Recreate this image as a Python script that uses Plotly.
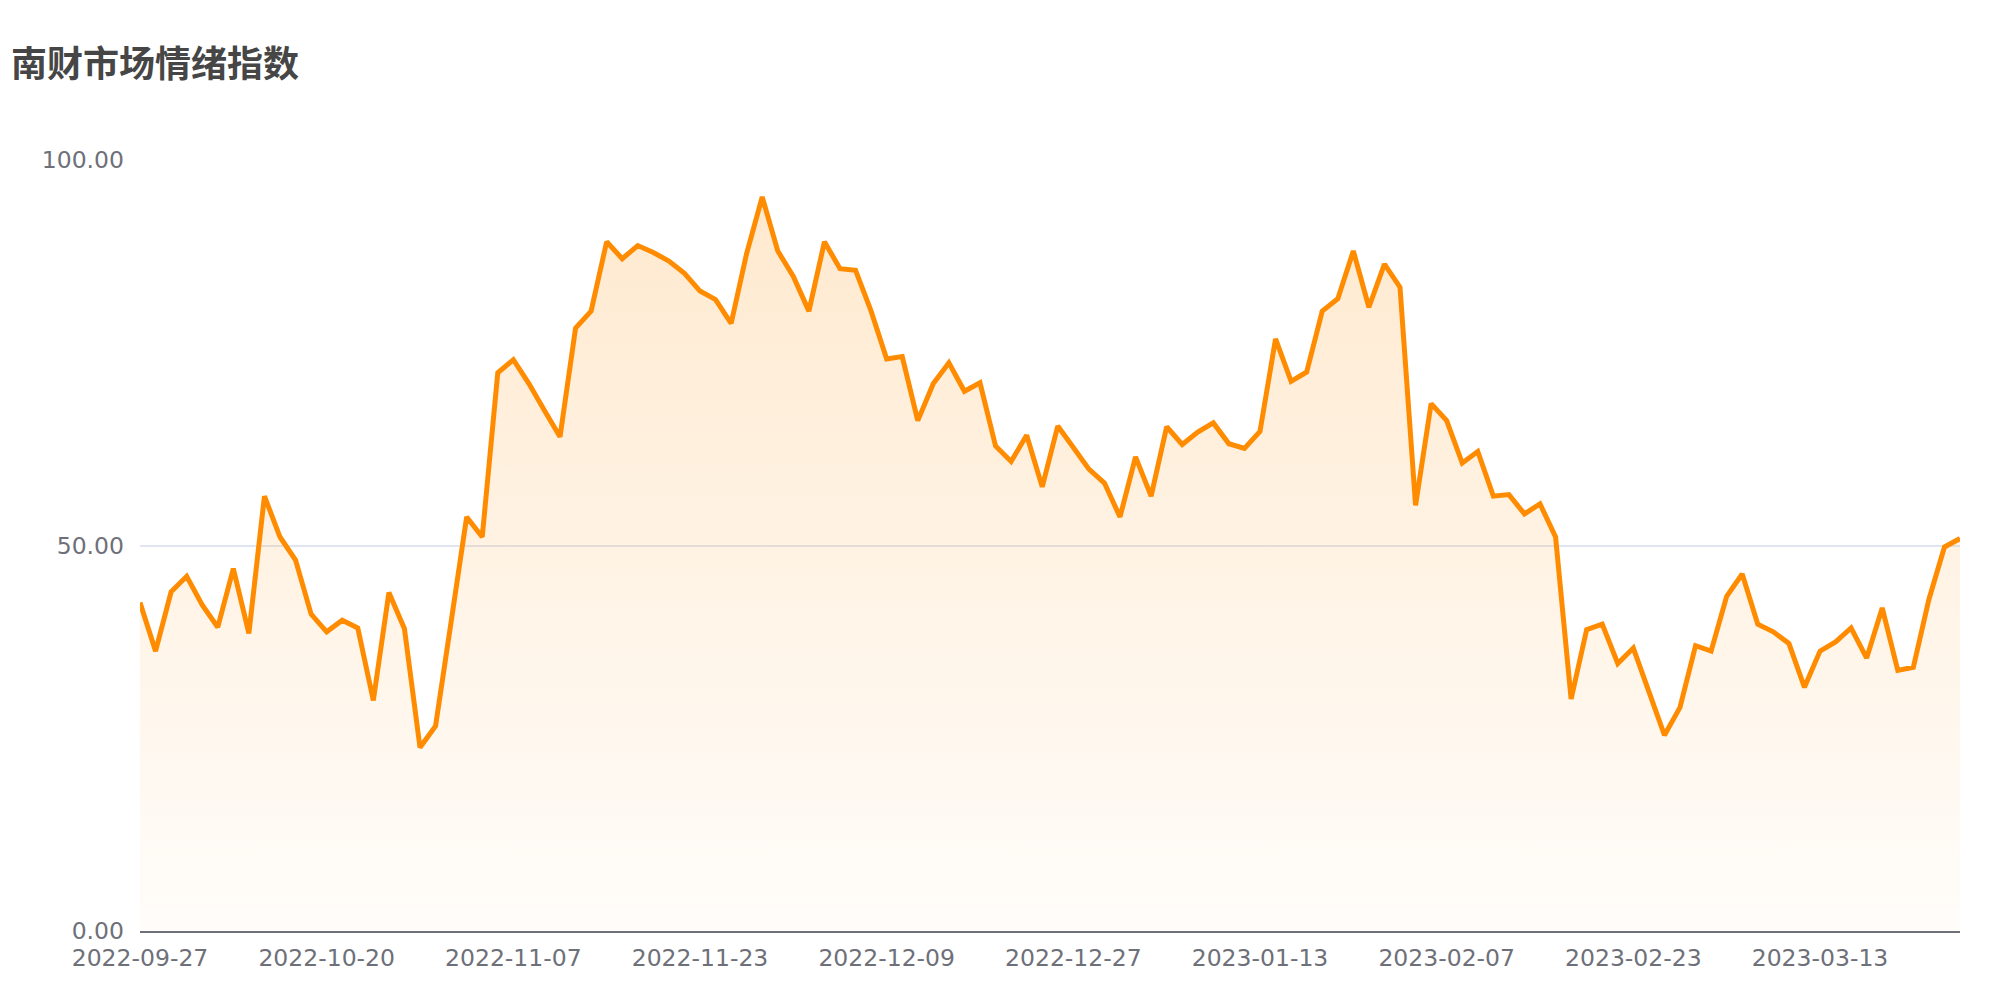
import plotly.graph_objects as go

dates = [
    "2022-09-27", "2022-09-28", "2022-09-29", "2022-09-30", "2022-10-10", "2022-10-11",
    "2022-10-12", "2022-10-13", "2022-10-14", "2022-10-17", "2022-10-18", "2022-10-19",
    "2022-10-20", "2022-10-21", "2022-10-24", "2022-10-25", "2022-10-26", "2022-10-27",
    "2022-10-28", "2022-10-31", "2022-11-01", "2022-11-02", "2022-11-03", "2022-11-04",
    "2022-11-07", "2022-11-08", "2022-11-09", "2022-11-10", "2022-11-11", "2022-11-14",
    "2022-11-15", "2022-11-16", "2022-11-17", "2022-11-18", "2022-11-21", "2022-11-22",
    "2022-11-23", "2022-11-24", "2022-11-25", "2022-11-28", "2022-11-29", "2022-11-30",
    "2022-12-01", "2022-12-02", "2022-12-05", "2022-12-06", "2022-12-07", "2022-12-08",
    "2022-12-09", "2022-12-12", "2022-12-13", "2022-12-14", "2022-12-15", "2022-12-16",
    "2022-12-19", "2022-12-20", "2022-12-21", "2022-12-22", "2022-12-23", "2022-12-26",
    "2022-12-27", "2022-12-28", "2022-12-29", "2022-12-30", "2023-01-03", "2023-01-04",
    "2023-01-05", "2023-01-06", "2023-01-09", "2023-01-10", "2023-01-11", "2023-01-12",
    "2023-01-13", "2023-01-16", "2023-01-17", "2023-01-18", "2023-01-19", "2023-01-20",
    "2023-01-30", "2023-01-31", "2023-02-01", "2023-02-02", "2023-02-03", "2023-02-06",
    "2023-02-07", "2023-02-08", "2023-02-09", "2023-02-10", "2023-02-13", "2023-02-14",
    "2023-02-15", "2023-02-16", "2023-02-17", "2023-02-20", "2023-02-21", "2023-02-22",
    "2023-02-23", "2023-02-24", "2023-02-27", "2023-02-28", "2023-03-01", "2023-03-02",
    "2023-03-03", "2023-03-06", "2023-03-07", "2023-03-08", "2023-03-09", "2023-03-10",
    "2023-03-13", "2023-03-14", "2023-03-15", "2023-03-16", "2023-03-17", "2023-03-20",
    "2023-03-21", "2023-03-22", "2023-03-23", "2023-03-24",
]

values = [
    42.6, 36.3, 44.0, 46.0, 42.3, 39.4, 47.0, 38.6, 56.4, 51.1,
    48.1, 41.1, 38.8, 40.3, 39.3, 29.9, 43.9, 39.2, 23.8, 26.6,
    40.1, 53.7, 51.1, 72.4, 74.1, 71.0, 67.5, 64.1, 78.2, 80.4,
    89.4, 87.2, 88.9, 88.0, 86.9, 85.3, 83.0, 81.9, 78.8, 87.9,
    95.2, 88.2, 84.9, 80.4, 89.4, 85.9, 85.7, 80.4, 74.2, 74.5,
    66.2, 71.0, 73.7, 70.0, 71.1, 62.9, 60.9, 64.3, 57.6, 65.5,
    62.7, 59.9, 58.1, 53.7, 61.5, 56.4, 65.4, 63.1, 64.7, 65.9,
    63.2, 62.6, 64.8, 76.8, 71.3, 72.5, 80.4, 82.0, 88.2, 80.9,
    86.5, 83.5, 55.2, 68.4, 66.2, 60.7, 62.2, 56.4, 56.6, 54.1,
    55.4, 51.1, 30.1, 39.1, 39.8, 34.7, 36.7, 31.1, 25.4, 29.0,
    37.0, 36.3, 43.4, 46.3, 39.8, 38.8, 37.3, 31.6, 36.3, 37.5,
    39.3, 35.4, 41.9, 33.8, 34.2, 43.0, 49.8, 50.9,
]

title_text = "南财市场情绪指数"
y_ticks = [0, 50, 100]
x_tick_labels = dates[::12]

# The page body has an 8px default margin; the figure is sized to fit the window.
FIG_W, FIG_H = 1992, 984

fig = go.Figure()
fig.add_trace(go.Scatter(
    x=dates,
    y=values,
    mode="lines",
    line=dict(color="#FF8C00", width=5),
    fill="tozeroy",
    fillgradient=dict(
        type="vertical",
        colorscale=[[0, "rgba(255,140,0,0.02)"], [1, "rgba(255,140,0,0.19)"]],
    ),
    hoverinfo="x+y",
    showlegend=False,
))

fig.update_layout(
    width=FIG_W,
    height=FIG_H,
    paper_bgcolor="white",
    plot_bgcolor="white",
    margin=dict(l=132, r=40, t=152, b=61, autoexpand=False),
    title=dict(
        text="<b>" + title_text + "</b>",
        font=dict(family="Noto Sans CJK SC", size=36, color="#464646"),
        x=3 / FIG_W, xref="container", xanchor="left",
        y=1 - 56 / FIG_H, yref="container", yanchor="middle",
    ),
)

fig.update_xaxes(
    type="category",
    range=[0, len(dates) - 1],
    tickmode="array",
    tickvals=x_tick_labels,
    ticktext=x_tick_labels,
    showgrid=False,
    showline=True,
    linecolor="#6E7079",
    linewidth=2,
    ticks="",
    ticklabelstandoff=5,
    automargin=False,
    tickfont=dict(family="DejaVu Sans", size=23.5, color="#6E7079"),
    zeroline=False,
)

fig.update_yaxes(
    range=[0, 100],
    tickmode="array",
    tickvals=y_ticks,
    ticktext=[f"{v:.2f}" for v in y_ticks],
    showgrid=True,
    gridcolor="#E0E6F1",
    gridwidth=1.5,
    zeroline=False,
    showline=False,
    ticks="",
    ticklabelstandoff=15,
    automargin=False,
    tickfont=dict(family="DejaVu Sans", size=23.5, color="#6E7079"),
)

fig.write_html("out.html")
